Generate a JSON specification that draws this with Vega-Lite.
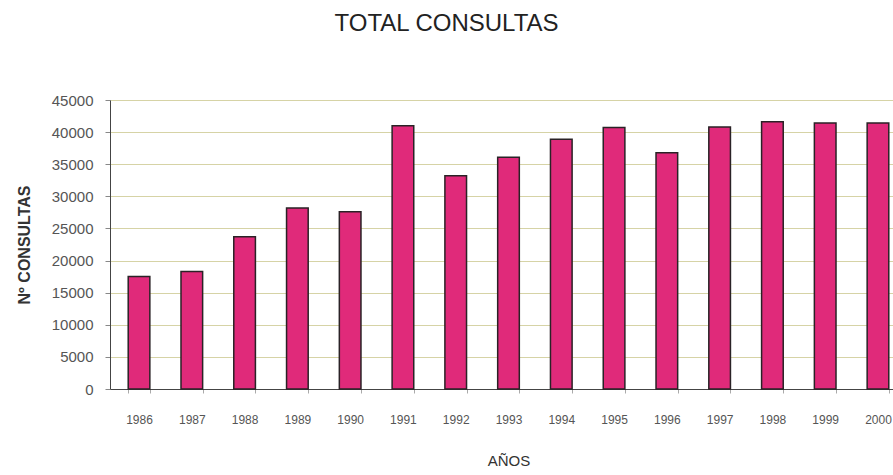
{
  "$schema": "https://vega.github.io/schema/vega-lite/v6.json",
  "autosize": {"type": "none"},
  "padding": {"left": 110, "top": 100, "right": 0, "bottom": 86},
  "width": 797,
  "height": 289,
  "background": "white",
  "title": {
    "text": "TOTAL CONSULTAS",
    "font": "Liberation Sans",
    "fontSize": 24,
    "fontWeight": "normal",
    "color": "#222222",
    "anchor": "middle",
    "dx": -62,
    "offset": 57
  },
  "data": {
    "values": [
      {"year": "1986", "consultas": 17500},
      {"year": "1987", "consultas": 18300},
      {"year": "1988", "consultas": 23700},
      {"year": "1989", "consultas": 28200},
      {"year": "1990", "consultas": 27600},
      {"year": "1991", "consultas": 41000},
      {"year": "1992", "consultas": 33200},
      {"year": "1993", "consultas": 36100},
      {"year": "1994", "consultas": 38900},
      {"year": "1995", "consultas": 40700},
      {"year": "1996", "consultas": 36800},
      {"year": "1997", "consultas": 40800},
      {"year": "1998", "consultas": 41600},
      {"year": "1999", "consultas": 41400},
      {"year": "2000", "consultas": 41400}
    ]
  },
  "mark": {"type": "bar", "color": "#e02a7a", "stroke": "#2a2226", "strokeWidth": 1.5},
  "encoding": {
    "x": {
      "field": "year",
      "type": "ordinal",
      "scale": {"paddingInner": 0.59, "paddingOuter": 0.345},
      "axis": {
        "title": "AÑOS",
        "titleFont": "Liberation Sans",
        "titleFontSize": 15,
        "titleFontWeight": "normal",
        "titleColor": "#333333",
        "titlePadding": 28,
        "labelAngle": 0,
        "labelFont": "Liberation Sans",
        "labelFontSize": 12,
        "labelColor": "#555555",
        "labelPadding": 21,
        "tickBand": "extent",
        "tickSize": 4,
        "tickColor": "#aaaaaa",
        "domainColor": "#444444",
        "grid": false
      }
    },
    "y": {
      "field": "consultas",
      "type": "quantitative",
      "scale": {"domain": [0, 45000]},
      "axis": {
        "title": "Nº CONSULTAS",
        "titleFont": "Liberation Sans",
        "titleFontSize": 16,
        "titleFontWeight": "bold",
        "titleColor": "#333333",
        "titlePadding": 19,
        "values": [0, 5000, 10000, 15000, 20000, 25000, 30000, 35000, 40000, 45000],
        "format": "d",
        "labelFont": "Liberation Sans",
        "labelFontSize": 15,
        "labelColor": "#555555",
        "labelPadding": 12,
        "tickSize": 5,
        "tickColor": "#888888",
        "domainColor": "#444444",
        "grid": true,
        "gridColor": "#d6d3a6",
        "gridWidth": 1
      }
    }
  },
  "config": {"view": {"stroke": null}}
}
